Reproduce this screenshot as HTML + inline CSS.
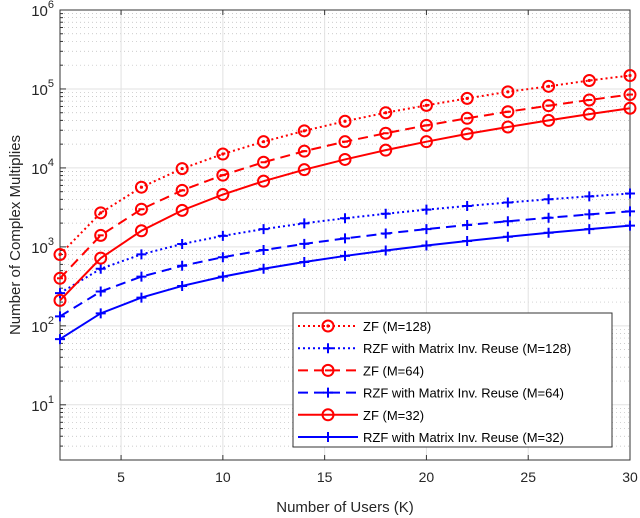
<!DOCTYPE html>
<html><head><meta charset="utf-8"><style>body{margin:0;background:#fff}svg{display:block;font-family:"Liberation Sans",sans-serif}</style></head>
<body>
<svg id="c" width="640" height="518"></svg>
<script>
const users=[2,4,6,8,10,12,14,16,18,20,22,24,26,28,30];
const zf128=[800,2700,5700,9800,15000,21500,29500,39000,50000,62000,76000,92000,108000,128000,148000];
const zf64=[400,1400,3000,5200,8100,11800,16300,21500,27500,34600,42500,51500,61500,72500,85000];
const zf32=[210,720,1600,2900,4600,6800,9500,12800,16800,21500,27000,33000,40000,48000,57000];
const rzf128=[260,528,804,1088,1380,1680,1988,2304,2628,2960,3300,3648,4004,4368,4740];
const rzf64=[132,272,420,576,740,912,1092,1280,1476,1680,1892,2112,2340,2576,2820];
const rzf32=[68,144,228,320,420,528,644,768,900,1040,1188,1344,1508,1680,1860];
const xTicks=[5,10,15,20,25,30];
const yExp=[1,2,3,4,5,6];
const NS="http://www.w3.org/2000/svg";
const svg=document.getElementById('c');
const L=60,R=630,T=10,B=460;
const YMIN=Math.log10(2),YMAX=6;
const xs=k=>L+(k-2)/28*(R-L);
const ys=v=>B-(Math.log10(v)-YMIN)/(YMAX-YMIN)*(B-T);
function el(t,a,p){const e=document.createElementNS(NS,t);for(const k in a)e.setAttribute(k,a[k]);(p||svg).appendChild(e);return e;}
const grid=el('g',{});


for(let d=0;d<6;d++)for(let m=2;m<10;m++){const v=m*Math.pow(10,d);if(v<2||v>1e6)continue;const y=ys(v);
 el('line',{x1:L,x2:R,y1:y,y2:y,stroke:'#bbb','stroke-width':0.7,'stroke-dasharray':'1,3'},grid);
 el('line',{x1:L,x2:L+3,y1:y,y2:y,stroke:'#333'},grid);}
for(const e of yExp)el('line',{x1:L,x2:R,y1:ys(Math.pow(10,e)),y2:ys(Math.pow(10,e)),stroke:'#e2e2e2','stroke-width':1},grid);
for(const t of xTicks)el('line',{x1:xs(t),x2:xs(t),y1:T,y2:B,stroke:'#e2e2e2','stroke-width':1},grid);
el('rect',{x:L,y:T,width:R-L,height:B-T,fill:'none',stroke:'#333','stroke-width':1});
for(const t of xTicks){el('line',{x1:xs(t),x2:xs(t),y1:B,y2:B-5,stroke:'#333'});el('line',{x1:xs(t),x2:xs(t),y1:T,y2:T+5,stroke:'#333'});
const tx=el('text',{x:xs(t),y:B+22,'text-anchor':'middle','font-size':14,fill:'#262626'});tx.textContent=t;

}
for(const e of yExp){const y=ys(Math.pow(10,e));el('line',{x1:L,x2:L+6,y1:y,y2:y,stroke:'#333'});
const tx=el('text',{x:L-6,y:y+6,'text-anchor':'end','font-size':15,fill:'#262626'});tx.innerHTML='10<tspan dy="-8" font-size="11">'+e+'</tspan>';

}
const xl=el('text',{x:(L+R)/2,y:512,'text-anchor':'middle','font-size':15,fill:'#262626'});xl.textContent='Number of Users (K)';


const yl=el('text',{x:0,y:0,transform:'translate(20,'+(T+B)/2+') rotate(-90)','text-anchor':'middle','font-size':15,fill:'#262626'});yl.textContent='Number of Complex Multiplies';


const RED='#f00',BLUE='#00f';
function marker(g,type,x,y,c){
 if(type==='plus'){el('path',{d:`M${x-5} ${y}H${x+5}M${x} ${y-5}V${y+5}`,stroke:c,'stroke-width':2,fill:'none'},g);return;}
 el('circle',{cx:x,cy:y,r:5.5,fill:'none',stroke:c,'stroke-width':2},g);
 if(type==='dot')el('circle',{cx:x,cy:y,r:1.6,fill:c},g);
 if(type==='minus')el('line',{x1:x-3,x2:x+3,y1:y,y2:y,stroke:c,'stroke-width':2},g);
}
const series=[
 {n:'zf-m128',v:zf128,c:RED,d:'2,3',m:'dot',l:'ZF (M=128)'},
 {n:'rzf-m128',v:rzf128,c:BLUE,d:'2,3',m:'plus',l:'RZF with Matrix Inv. Reuse (M=128)'},
 {n:'zf-m64',v:zf64,c:RED,d:'10,6',m:'minus',l:'ZF (M=64)'},
 {n:'rzf-m64',v:rzf64,c:BLUE,d:'10,6',m:'plus',l:'RZF with Matrix Inv. Reuse (M=64)'},
 {n:'zf-m32',v:zf32,c:RED,d:'none',m:'circ',l:'ZF (M=32)'},
 {n:'rzf-m32',v:rzf32,c:BLUE,d:'none',m:'plus',l:'RZF with Matrix Inv. Reuse (M=32)'}];
for(const s of series){const g=el('g',{});
 
 
 el('polyline',{points:users.map((k,i)=>xs(k)+','+ys(s.v[i])).join(' '),fill:'none',stroke:s.c,'stroke-width':2,'stroke-dasharray':s.d},g);
 users.forEach((k,i)=>marker(g,s.m,xs(k),ys(s.v[i]),s.c));}
const lg=el('g',{});


el('rect',{x:293,y:313,width:319,height:134,fill:'#fff',stroke:'#333','stroke-width':1},lg);
series.forEach((s,i)=>{const y=326+i*22.2;const g=el('g',{},lg);
 
 
 el('line',{x1:298,x2:358,y1:y,y2:y,stroke:s.c,'stroke-width':2,'stroke-dasharray':s.d},g);
 marker(g,s.m,328,y,s.c);
 const t=el('text',{x:363,y:y+5,'font-size':13,fill:'#000'},g);t.textContent=s.l;});
</script>
</body></html>
